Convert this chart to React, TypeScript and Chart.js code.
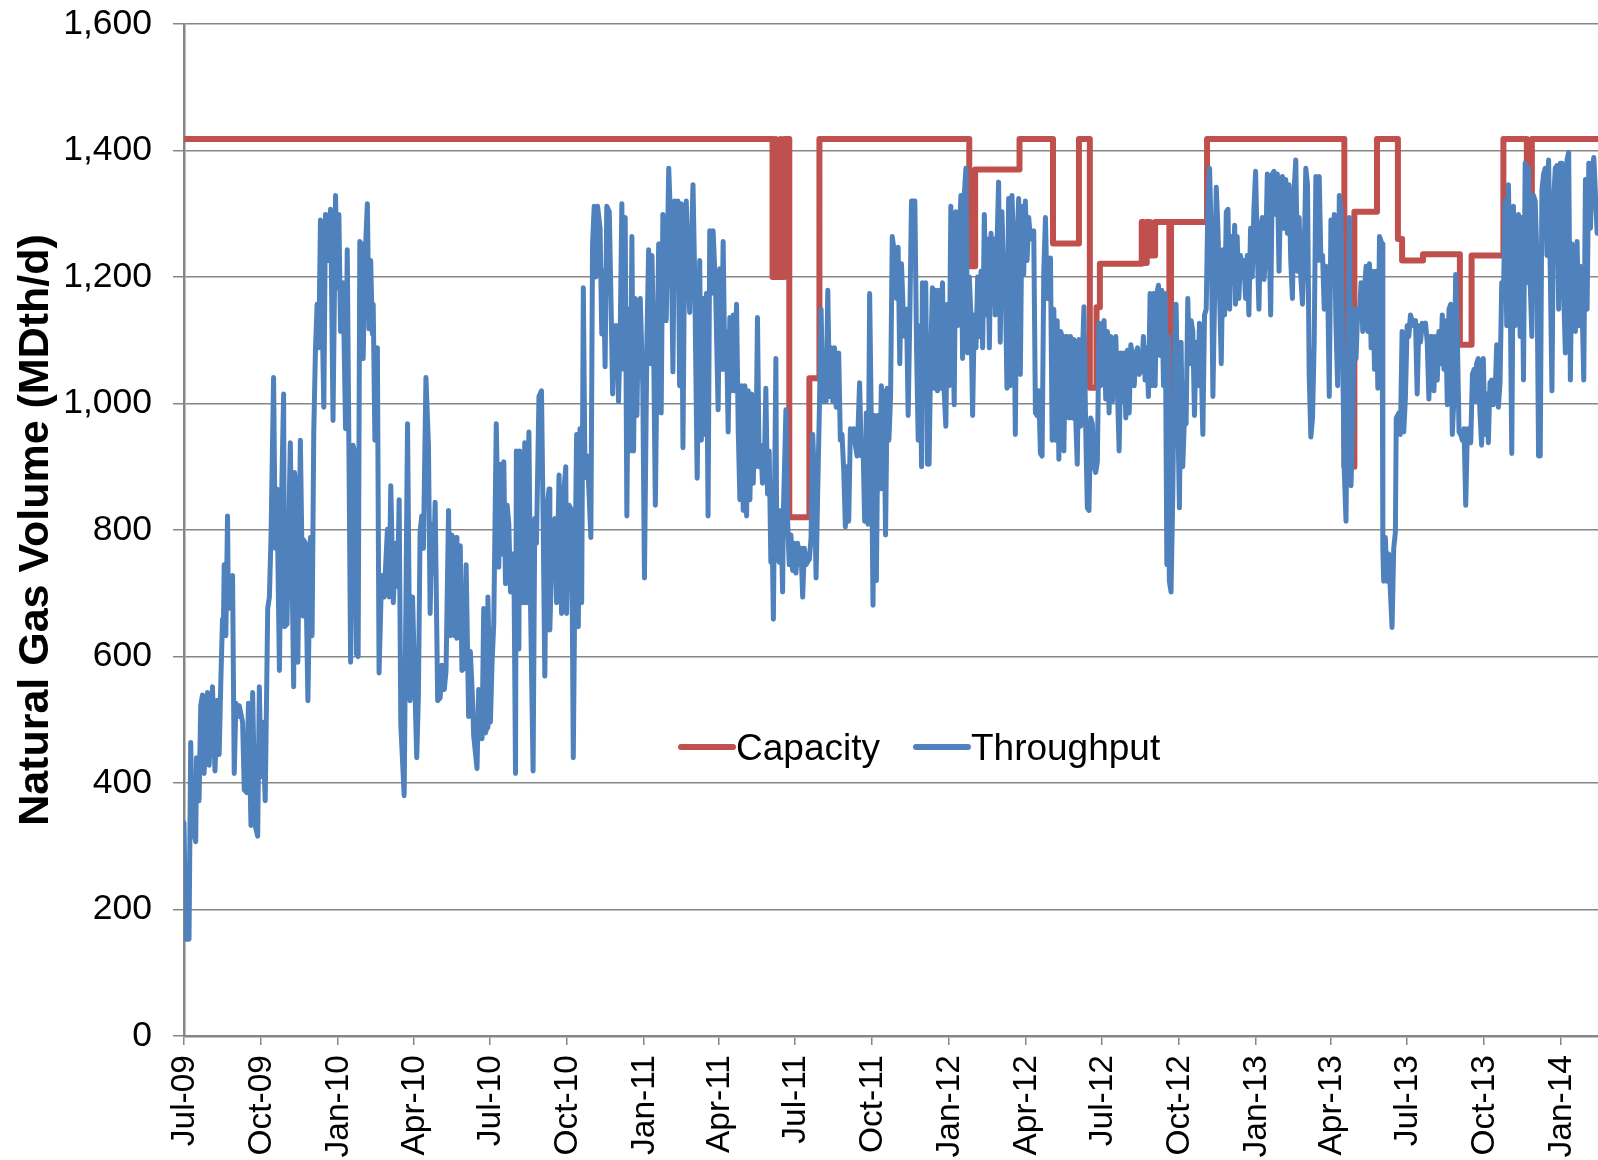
import React, { useEffect, useRef } from 'react';
import { Chart, registerables } from 'chart.js';

Chart.register(...registerables);

const FONT = '"Liberation Sans", Arial, Helvetica, sans-serif';
const RED = '#C0504D';
const BLUE = '#4F81BD';
const GRID = '#868686';

const Y_TITLE = 'Natural Gas Volume (MDth/d)';

// x axis: days since 1 Jul 2009
const xTickLabels = ['Jul-09', 'Oct-09', 'Jan-10', 'Apr-10', 'Jul-10', 'Oct-10', 'Jan-11', 'Apr-11', 'Jul-11', 'Oct-11', 'Jan-12', 'Apr-12', 'Jul-12', 'Oct-12', 'Jan-13', 'Apr-13', 'Jul-13', 'Oct-13', 'Jan-14'];
const xTickDays = [0, 92, 184, 274, 365, 457, 549, 639, 730, 822, 914, 1005, 1096, 1188, 1280, 1370, 1461, 1553, 1645];
const X_MAX_DAY = 1689;

const Y_MIN = 0;
const Y_MAX = 1600;
const Y_STEP = 200;

// Capacity (MDth/d): [day it starts, value]
const capacitySteps: number[][] = [
  [0, 1418], [703, 1200], [706, 1418], [707, 1200], [712, 1418], [713, 1200], [717, 1418], [723, 820], [747, 1040], [759, 1418],
  [938, 1217], [945, 1370], [998, 1418], [1038, 1253], [1069, 1418], [1082, 1025], [1090, 1152], [1094, 1221],
  [1144, 1287], [1146, 1222], [1150, 1287], [1154, 1234], [1160, 1287], [1177, 891], [1179, 1287], [1222, 1418],
  [1386, 900], [1398, 1303], [1425, 1418], [1450, 1260], [1455, 1226], [1480, 1236], [1524, 1093], [1538, 1234],
  [1576, 1418], [1604, 1300], [1610, 1418], [1689, 1418],
];

// Throughput (MDth/d): [day, value]
const throughputJul09Apr10: number[][] = [
  [0, 337], [2, 153], [6, 153], [8, 464], [10, 333], [14, 307], [15, 440], [18, 372], [20, 522], [22, 539], [24, 415], [28, 543], [30, 428], [34, 552], [37, 419], [40, 531], [42, 445], [44, 561], [46, 659], [47, 633], [48, 745], [50, 633], [52, 822], [53, 676], [56, 724], [58, 728], [60, 415], [62, 526], [64, 505], [66, 522], [70, 496], [72, 389], [75, 385], [77, 526], [80, 333], [82, 543], [85, 333], [88, 316], [90, 552], [92, 410], [94, 496], [97, 372], [100, 676], [102, 694], [104, 792], [107, 1041], [109, 771], [111, 865], [114, 578], [116, 814], [119, 1015], [120, 647], [123, 651], [127, 938], [131, 552], [132, 891], [135, 848], [136, 591], [139, 942], [142, 664], [143, 784], [145, 779], [148, 530], [151, 788], [153, 633], [155, 955], [157, 1084], [159, 1157], [161, 1088], [163, 1290], [167, 994], [169, 1299], [171, 1226], [175, 1307], [176, 1217], [178, 973], [181, 1329], [183, 1183], [185, 1299], [187, 1114], [190, 1191], [193, 960], [195, 1243], [197, 925], [199, 591], [202, 934], [204, 921], [206, 604], [208, 600], [210, 1256], [212, 1252], [214, 1071], [216, 1221], [219, 1316], [221, 1118], [223, 1226], [225, 1110], [226, 1157], [228, 942], [231, 1088], [233, 574], [236, 728], [239, 694], [243, 801], [245, 694], [247, 870], [250, 685], [253, 779], [255, 711], [257, 848], [259, 492], [263, 380], [265, 676], [267, 968], [270, 530], [273, 694], [275, 591], [278, 440], [280, 539],
];
const throughputApr10Jan11: number[][] = [
  [282, 797], [284, 822], [286, 771], [289, 1041], [292, 934], [294, 668], [296, 809], [298, 732], [300, 844], [303, 530], [306, 535], [308, 586], [311, 548], [313, 578], [316, 831], [318, 633], [320, 792], [323, 633], [325, 788], [326, 629], [330, 775], [332, 578], [335, 582], [337, 745], [340, 505], [342, 608], [345, 522], [346, 475], [350, 423], [352, 548], [354, 479], [356, 470], [358, 676], [360, 479], [362, 488], [363, 694], [366, 496], [368, 591], [370, 651], [373, 968], [376, 741], [378, 904], [380, 762], [382, 908], [384, 715], [386, 839], [388, 809], [390, 702], [392, 762], [394, 762], [396, 415], [397, 925], [400, 612], [401, 925], [405, 685], [407, 938], [409, 685], [412, 955], [414, 676], [417, 419], [419, 818], [421, 779], [424, 1011], [427, 1020], [429, 814], [431, 569], [433, 827], [436, 865], [437, 642], [440, 797], [443, 818], [445, 685], [448, 887], [451, 668], [453, 848], [456, 900], [457, 668], [460, 839], [463, 831], [465, 440], [467, 736], [469, 951], [471, 647], [473, 960], [475, 685], [477, 1183], [479, 883], [482, 917], [483, 883], [486, 788], [488, 1252], [490, 1312], [492, 1200], [494, 1312], [497, 1277], [499, 1110], [501, 1209], [503, 1058], [505, 1312], [508, 1303], [510, 1166], [512, 1015], [514, 1123], [517, 1123], [519, 1003], [521, 1106], [523, 1316], [525, 1054], [527, 1294], [529, 822], [531, 1149], [533, 925], [535, 1264], [537, 925], [539, 1166], [541, 981], [543, 1157], [545, 1166], [548, 1028], [550, 724], [553, 1106], [555, 1243], [557, 1063], [559, 1234], [561, 1088], [563, 839], [565, 1063], [567, 1252],
];
const throughputJan11Oct11: number[][] = [
  [568, 1252], [570, 985], [572, 1299], [574, 1277], [576, 1131], [579, 1372], [582, 1260], [584, 1050], [586, 1320], [588, 1269], [590, 1320], [592, 1028], [594, 1316], [596, 930], [598, 1252], [600, 1320], [602, 1209], [604, 1144], [606, 1243], [608, 1346], [610, 1200], [613, 882], [616, 1226], [618, 942], [620, 1166], [622, 951], [624, 1174], [626, 822], [628, 1273], [630, 1174], [632, 1273], [635, 1179], [638, 990], [640, 1213], [642, 1054], [644, 1256], [646, 1054], [648, 1114], [650, 955], [652, 1136], [654, 1020], [656, 1140], [658, 1020], [660, 1157], [662, 960], [664, 848], [666, 1028], [668, 831], [670, 1028], [672, 822], [674, 1020], [676, 848], [678, 1015], [680, 874], [682, 1011], [683, 900], [685, 1136], [687, 900], [689, 934], [691, 874], [693, 887], [695, 1024], [697, 857], [699, 925], [701, 749], [703, 749], [704, 659], [707, 1071], [708, 762], [711, 749], [713, 831], [715, 702], [716, 831], [719, 990], [721, 814], [723, 745], [725, 792], [727, 736], [729, 779], [731, 732], [733, 779], [735, 745], [737, 771], [739, 694], [741, 771], [743, 745], [747, 754], [749, 788], [751, 951], [753, 882], [755, 724], [757, 865], [759, 994], [761, 1149], [763, 1003], [765, 1037], [767, 1003], [769, 1179], [771, 1011], [773, 1088], [775, 1003], [777, 1088], [779, 994], [782, 1080], [784, 942], [786, 951], [788, 895], [790, 805], [792, 900], [794, 814], [796, 960], [798, 942], [800, 960], [802, 934], [804, 917], [807, 1033], [809, 917], [811, 942], [813, 814], [815, 985], [817, 809], [819, 1174], [821, 968], [823, 681], [825, 981], [827, 720], [829, 981], [831, 865], [833, 1028], [835, 865], [836, 1020], [838, 792], [840, 1024], [842, 942], [844, 1011], [846, 1264], [849, 1234], [851, 1166], [853, 1247],
];
const throughputOct11Aug12: number[][] = [
  [855, 1063], [857, 1221], [859, 1149], [861, 1106], [863, 1149], [865, 981], [867, 1140], [869, 1320], [873, 1320], [875, 1088], [877, 942], [879, 1123], [881, 900], [882, 1191], [884, 1054], [886, 1191], [888, 904], [890, 904], [892, 1080], [894, 1183], [896, 1024], [898, 1179], [900, 1020], [902, 1179], [904, 1024], [906, 1191], [908, 1020], [910, 964], [912, 1157], [914, 1028], [916, 1312], [918, 1149], [920, 998], [922, 1303], [924, 1123], [926, 1260], [928, 1329], [930, 1071], [932, 1329], [934, 1372], [936, 1080], [938, 1200], [940, 1140], [942, 981], [944, 1140], [946, 1088], [948, 1200], [950, 1106], [952, 1209], [954, 1088], [956, 1299], [958, 1140], [960, 1260], [962, 1088], [964, 1269], [966, 1157], [968, 1260], [969, 1140], [971, 1243], [973, 1350], [975, 1097], [977, 1303], [979, 1209], [981, 1191], [983, 1024], [985, 1324], [987, 1028], [989, 1329], [991, 1239], [993, 951], [995, 1252], [997, 1324], [999, 1046], [1001, 1312], [1003, 1204], [1005, 1320], [1007, 1226], [1009, 1294], [1011, 1260], [1013, 1264], [1015, 1273], [1017, 985], [1019, 981], [1021, 1020], [1023, 921], [1025, 917], [1027, 1209], [1029, 1294], [1031, 1166], [1033, 1213], [1035, 1230], [1037, 942], [1039, 1149], [1041, 942], [1043, 1131], [1045, 912], [1047, 1114], [1049, 1106], [1051, 925], [1053, 1106], [1055, 1106], [1057, 977], [1059, 1106], [1061, 977], [1063, 1101], [1065, 981], [1067, 904], [1069, 1101], [1071, 964], [1073, 1071], [1075, 1153], [1077, 964], [1079, 835], [1081, 831], [1083, 977], [1085, 968], [1087, 900], [1089, 891], [1091, 908], [1093, 1127], [1095, 1028], [1097, 1123], [1099, 1131], [1101, 1007], [1103, 1114], [1105, 985], [1107, 1106], [1109, 1003], [1111, 1088], [1113, 1106], [1115, 1020], [1117, 925], [1119, 1080], [1121, 1003], [1123, 1080], [1125, 977], [1127, 1084], [1129, 985], [1131, 1093], [1133, 1071], [1135, 1028], [1137, 1080], [1139, 1088], [1141, 1046],
];
const throughputAug12May13: number[][] = [
  [1142, 1080], [1144, 1050], [1146, 1106], [1148, 1037], [1150, 1088], [1152, 1011], [1154, 1174], [1156, 1028], [1158, 1174], [1160, 1028], [1162, 1174], [1164, 1187], [1166, 1076], [1168, 1179], [1170, 1028], [1172, 1174], [1174, 745], [1176, 1106], [1177, 719], [1179, 702], [1181, 848], [1183, 1071], [1185, 1157], [1187, 994], [1189, 835], [1191, 1097], [1193, 900], [1195, 977], [1197, 968], [1199, 1166], [1201, 1063], [1203, 1131], [1205, 1114], [1207, 981], [1209, 1097], [1211, 1028], [1213, 1127], [1215, 1063], [1217, 951], [1219, 1140], [1221, 1149], [1223, 1312], [1225, 1372], [1227, 1269], [1229, 1011], [1231, 1166], [1233, 1342], [1235, 1277], [1237, 1170], [1239, 1063], [1241, 1243], [1243, 1140], [1245, 1303], [1247, 1307], [1249, 1149], [1251, 1264], [1253, 1191], [1255, 1282], [1256, 1157], [1258, 1264], [1260, 1166], [1262, 1234], [1264, 1200], [1266, 1226], [1268, 1166], [1270, 1234], [1272, 1140], [1274, 1277], [1276, 1200], [1278, 1307], [1280, 1367], [1282, 1243], [1284, 1149], [1286, 1277], [1288, 1294], [1290, 1196], [1292, 1234], [1294, 1363], [1296, 1277], [1298, 1140], [1300, 1363], [1302, 1367], [1304, 1299], [1306, 1363], [1308, 1209], [1310, 1342], [1312, 1359], [1314, 1277], [1316, 1354], [1318, 1269], [1320, 1346], [1322, 1226], [1324, 1166], [1326, 1337], [1328, 1385], [1330, 1209], [1332, 1294], [1334, 1200], [1336, 1157], [1338, 1234], [1340, 1372], [1342, 1346], [1344, 1046], [1346, 947], [1348, 977], [1350, 1097], [1352, 1359], [1354, 1226], [1356, 1359], [1358, 1226], [1360, 1234], [1362, 1149], [1364, 1217], [1366, 1196], [1368, 1011], [1370, 1290], [1372, 1191], [1374, 1299], [1376, 1123], [1378, 1028], [1380, 1329], [1382, 1307], [1384, 1071], [1386, 891], [1388, 814], [1390, 1080], [1392, 1294], [1394, 870], [1396, 977], [1398, 1149], [1400, 1071], [1402, 1149], [1404, 1140], [1406, 1191], [1408, 1114], [1410, 1179], [1412, 1217], [1414, 1114], [1416, 1221], [1418, 1088], [1420, 1209], [1422, 1054], [1424, 1209], [1426, 1024], [1428, 1264],
];
const throughputJun13Feb14: number[][] = [
  [1431, 1252], [1432, 771], [1433, 719], [1435, 788], [1437, 719], [1439, 762], [1443, 646], [1445, 771], [1447, 797], [1448, 977], [1451, 985], [1453, 951], [1455, 1114], [1457, 955], [1459, 1011], [1461, 1123], [1463, 1106], [1465, 1140], [1467, 1131], [1469, 1123], [1471, 1131], [1473, 1015], [1475, 1123], [1477, 1097], [1479, 1127], [1481, 1123], [1483, 1127], [1485, 1097], [1487, 1007], [1489, 1106], [1491, 1106], [1493, 1020], [1495, 1106], [1497, 1037], [1499, 1114], [1501, 1063], [1503, 1140], [1505, 1054], [1507, 1131], [1509, 998], [1511, 1149], [1513, 1157], [1515, 951], [1517, 1011], [1519, 1204], [1521, 1106], [1523, 955], [1525, 951], [1527, 942], [1529, 960], [1531, 839], [1533, 960], [1535, 951], [1537, 938], [1539, 1046], [1541, 1054], [1543, 1003], [1544, 1063], [1546, 1071], [1548, 985], [1550, 934], [1552, 1071], [1554, 951], [1556, 1015], [1558, 938], [1560, 1033], [1562, 1037], [1564, 998], [1566, 1011], [1568, 1093], [1570, 994], [1572, 1033], [1574, 1191], [1576, 1166], [1578, 1320], [1580, 1123], [1582, 1346], [1584, 1191], [1586, 921], [1588, 1312], [1590, 1123], [1592, 1209], [1594, 1299], [1596, 1106], [1598, 1294], [1600, 1037], [1602, 1380], [1604, 1191], [1606, 1372], [1608, 1191], [1610, 1106], [1612, 1329], [1614, 1320], [1616, 1234], [1618, 917], [1620, 917], [1622, 1337], [1624, 1363], [1626, 1372], [1628, 1234], [1630, 1385], [1632, 1209], [1634, 1020], [1636, 1320], [1638, 1372], [1640, 1376], [1642, 1149], [1644, 1380], [1646, 1380], [1648, 1174], [1650, 1080], [1652, 1385], [1654, 1397], [1656, 1037], [1658, 1252], [1660, 1226], [1662, 1114], [1664, 1256], [1666, 1123], [1668, 1217], [1670, 1157], [1672, 1037], [1674, 1354], [1676, 1149], [1678, 1380], [1680, 1277], [1682, 1372], [1684, 1389], [1686, 1329], [1688, 1269], [1689, 1320],
];

const throughputSegments = [
  throughputJul09Apr10, throughputApr10Jan11, throughputJan11Oct11,
  throughputOct11Aug12, throughputAug12May13, throughputJun13Feb14,
];

function throughputPoints() {
  const out: { x: number; y: number }[] = [];
  throughputSegments.forEach((seg) => seg.forEach(([d, v]) => out.push({ x: d, y: v })));
  return out;
}

function capacityPoints() {
  const out: { x: number; y: number }[] = [];
  capacitySteps.forEach(([d, v], i) => {
    if (i > 0) out.push({ x: d, y: capacitySteps[i - 1][1] });
    out.push({ x: d, y: v });
  });
  return out;
}

const legendOrder = ['Capacity', 'Throughput'];

const insideLegend = {
  id: 'insideLegend',
  afterDraw(chart: any) {
    const { ctx } = chart;
    const startX = 681;
    const lineY = 747;
    const baseY = 760;
    const lineLen = 52;
    const gapText = 3;
    const gapItems = 36;
    ctx.save();
    ctx.font = `37px ${FONT}`;
    ctx.textBaseline = 'alphabetic';
    ctx.textAlign = 'left';
    ctx.lineCap = 'round';
    ctx.lineWidth = 6;
    let x = startX;
    legendOrder.forEach((label) => {
      const ds = chart.data.datasets.find((d: any) => d.label === label);
      if (!ds) return;
      ctx.strokeStyle = ds.borderColor;
      ctx.beginPath();
      ctx.moveTo(x, lineY);
      ctx.lineTo(x + lineLen, lineY);
      ctx.stroke();
      ctx.fillStyle = '#000';
      const tx = x + lineLen + gapText;
      ctx.fillText(label, tx, baseY);
      x = tx + ctx.measureText(label).width + gapItems;
    });
    ctx.restore();
  },
};

export default function App() {
  const canvasRef = useRef<HTMLCanvasElement | null>(null);

  useEffect(() => {
    document.body.style.margin = '0';
    const canvas = canvasRef.current;
    if (!canvas) return;
    const chart = new Chart(canvas, {
      type: 'line',
      data: {
        datasets: [
          {
            label: 'Throughput',
            data: throughputPoints(),
            borderColor: BLUE,
            backgroundColor: BLUE,
            borderWidth: 5,
            pointRadius: 0,
            tension: 0,
            borderJoinStyle: 'round',
            borderCapStyle: 'round',
          },
          {
            label: 'Capacity',
            data: capacityPoints(),
            borderColor: RED,
            backgroundColor: RED,
            borderWidth: 6,
            pointRadius: 0,
            tension: 0,
            borderJoinStyle: 'round',
            borderCapStyle: 'round',
          },
        ],
      },
      options: {
        responsive: false,
        animation: false,
        devicePixelRatio: 1,
        events: [],
        layout: { padding: { top: 24, left: 0, right: 0, bottom: 0 }, autoPadding: false },
        plugins: {
          legend: { display: false },
          tooltip: { enabled: false },
          title: { display: false },
        },
        scales: {
          x: {
            type: 'linear',
            min: 0,
            max: X_MAX_DAY,
            afterBuildTicks: (scale: any) => {
              scale.ticks = xTickDays.map((v) => ({ value: v }));
            },
            afterFit: (scale: any) => {
              scale.height = 124;
              scale.paddingLeft = 0;
              scale.paddingRight = 0;
              scale.paddingTop = 0;
              scale.paddingBottom = 0;
            },
            ticks: {
              autoSkip: false,
              minRotation: 90,
              maxRotation: 90,
              padding: 10,
              labelOffset: 1,
              color: '#000',
              font: { family: FONT, size: 33.5 },
              callback: (_v: any, i: number) => xTickLabels[i],
            },
            grid: { drawOnChartArea: false, drawTicks: true, tickLength: 9, color: GRID, lineWidth: 1.5 },
            border: { display: true, color: GRID, width: 2.5 },
          },
          y: {
            min: Y_MIN,
            max: Y_MAX,
            afterFit: (scale: any) => {
              scale.width = 184;
              scale.paddingLeft = 0;
              scale.paddingRight = 0;
              scale.paddingTop = 0;
              scale.paddingBottom = 0;
            },
            ticks: {
              stepSize: Y_STEP,
              padding: 21,
              color: '#000',
              font: { family: FONT, size: 35.5 },
              callback: (v: any) => Number(v).toLocaleString('en-US'),
            },
            grid: { color: GRID, lineWidth: 1.5, tickLength: 11, drawTicks: true },
            border: { display: true, color: GRID, width: 2.5 },
            title: {
              display: true,
              text: Y_TITLE,
              color: '#000',
              font: { family: FONT, size: 43, weight: 'bold' },
              padding: { top: 10, bottom: 0 },
            },
          },
        },
      } as any,
      plugins: [insideLegend],
    });
    return () => chart.destroy();
  }, []);

  return (
    <div style={{ width: 1598, height: 1160, background: '#fff' }}>
      <canvas ref={canvasRef} width={1598} height={1160} style={{ display: 'block' }} />
    </div>
  );
}
